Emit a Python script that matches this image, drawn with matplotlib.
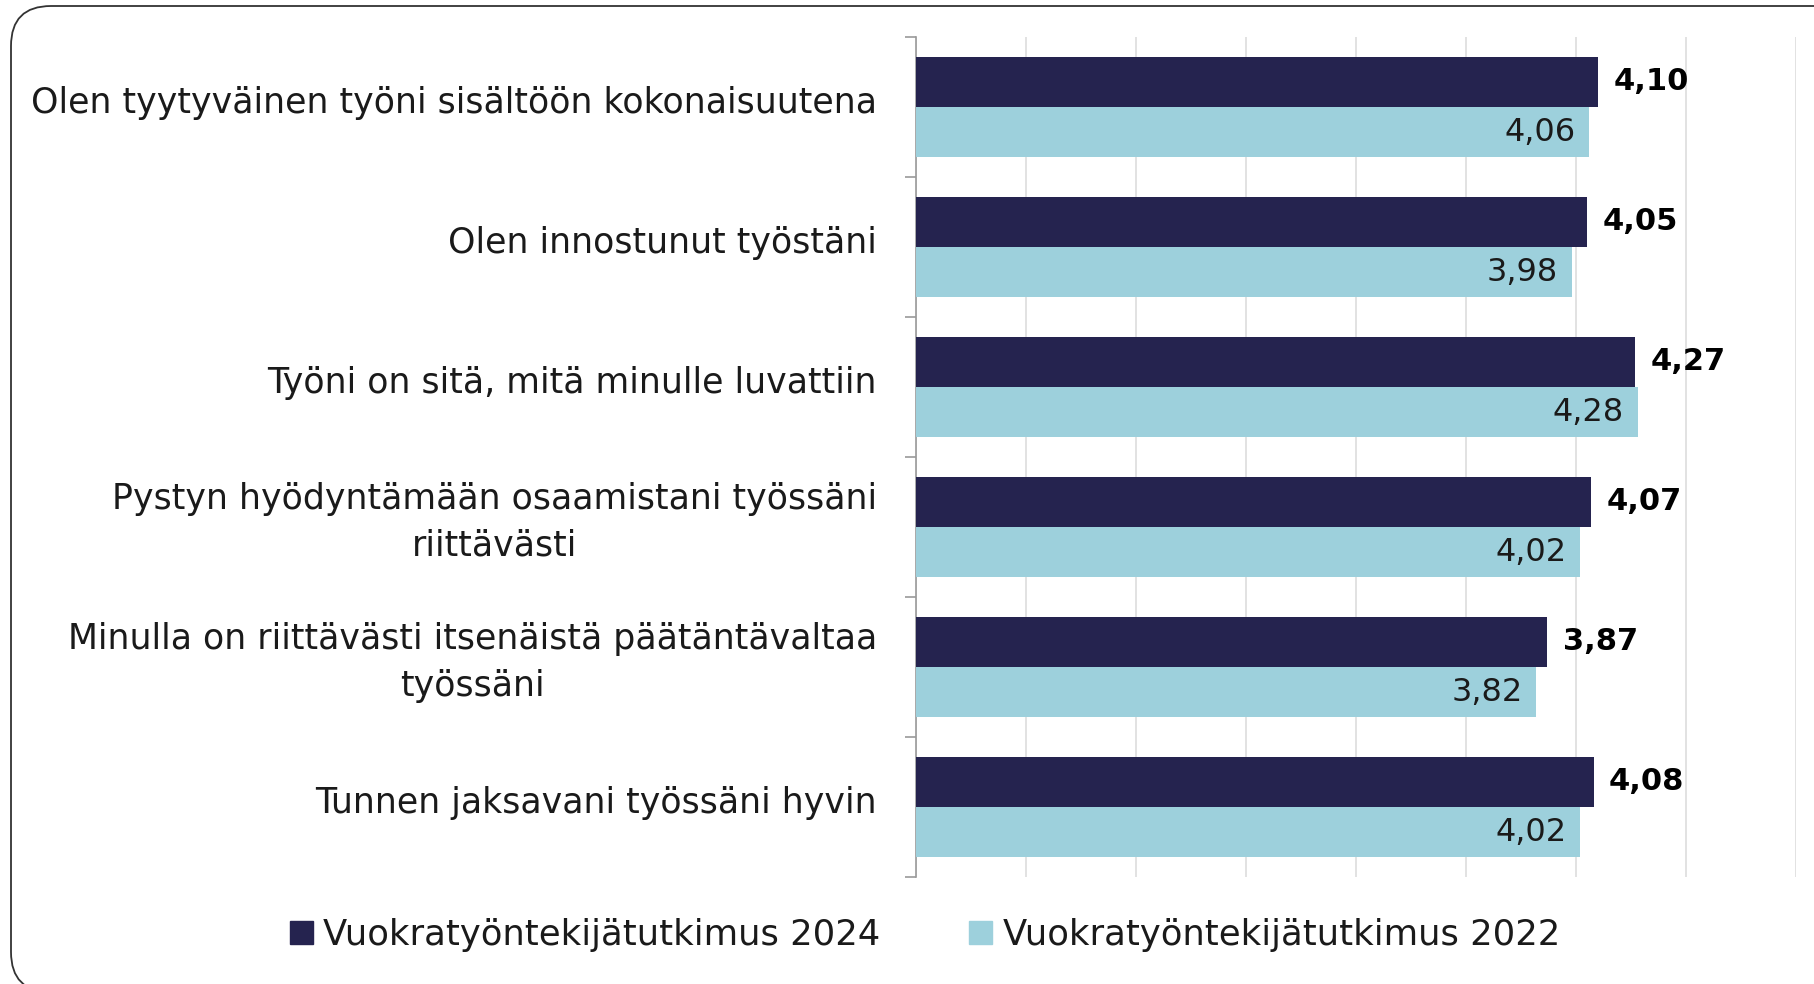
import numpy as np
import matplotlib
matplotlib.use("Agg")
import matplotlib.pyplot as plt
import matplotlib.transforms as mtransforms
from matplotlib.patches import FancyBboxPatch, Patch

plt.rcParams['font.family'] = ['DejaVu Sans']

categories = [
    "Olen tyytyväinen työni sisältöön kokonaisuutena",
    "Olen innostunut työstäni",
    "Työni on sitä, mitä minulle luvattiin",
    "Pystyn hyödyntämään osaamistani työssäni\nriittävästi",
    "Minulla on riittävästi itsenäistä päätäntävaltaa\ntyössäni",
    "Tunnen jaksavani työssäni hyvin",
]
values_2024 = [4.10, 4.05, 4.27, 4.07, 3.87, 4.08]
values_2022 = [4.06, 3.98, 4.28, 4.02, 3.82, 4.02]
series_names = ["Vuokratyöntekijätutkimus 2024", "Vuokratyöntekijätutkimus 2022"]

dark = "#25234f"
light = "#9dd0dc"

W, H = 1814, 984
fig = plt.figure(figsize=(W / 100, H / 100), dpi=100)
ax = fig.add_axes([916 / W, 1 - 877 / H, (1796 - 916) / W, (877 - 37) / H])

y = np.arange(len(categories))
bh = 0.36
ax.barh(y - bh / 2, np.array(values_2024) - 1, left=1, height=bh, color=dark, zorder=3)
ax.barh(y + bh / 2, np.array(values_2022) - 1, left=1, height=bh, color=light, zorder=3)

def fmt(v):
    return f"{v:.2f}".replace(".", ",")

for yi, v in zip(y, values_2024):
    ax.annotate(fmt(v), (v, yi - bh / 2), xytext=(11, 0), textcoords="offset points",
                ha="left", va="center", fontsize=22, fontweight="bold", color="black")
for yi, v in zip(y, values_2022):
    ax.annotate(fmt(v), (v, yi + bh / 2), xytext=(-10, 0), textcoords="offset points",
                ha="right", va="center", fontsize=23, color="#1a1a1a")

ax.set_xlim(1, 5)
ax.set_ylim(len(categories) - 0.5, -0.5)
ax.set_xticks(np.arange(1, 5.01, 0.5))
ax.set_xticklabels([])
ax.tick_params(axis="x", length=0)
ax.grid(axis="x", color="#dddddd", linewidth=1.2, zorder=0)

# category labels: drawn as text so they can sit a bit above the bar pair centre
ax.set_yticks([])
label_tr = ax.get_yaxis_transform() + mtransforms.ScaledTranslation(-0.39, 0.045, fig.dpi_scale_trans)
for yi, lab in zip(y, categories):
    ax.text(0, yi, lab, transform=label_tr, ha="right", va="center", multialignment="center",
            linespacing=1.48, fontsize=25, color="#1a1a1a")
ax.set_yticks(np.arange(-0.5, len(categories)), minor=True)
ax.tick_params(axis="y", which="minor", length=8, color="#9a9a9a", width=1.2)

for s in ["top", "right", "bottom"]:
    ax.spines[s].set_visible(False)
ax.spines["left"].set_color("#9a9a9a")
ax.spines["left"].set_linewidth(1.2)

handles = [Patch(color=dark), Patch(color=light)]
fig.legend(handles, series_names, loc="center", bbox_to_anchor=(925 / W, 1 - 935 / H),
           ncol=2, frameon=False, fontsize=25.5, handlelength=0.65, handleheight=0.65,
           handletextpad=0.3, columnspacing=2.5, labelcolor="#1a1a1a")

# rounded frame around the whole picture, partly cut off at right and bottom
box = FancyBboxPatch((11, -8), W + 40, H - 6 + 8, boxstyle="round,pad=0,rounding_size=40",
                     transform=None, facecolor="none", edgecolor="#333333", linewidth=1.3)
fig.patches.append(box)

fig.savefig("out.png", dpi=100, facecolor="white")
